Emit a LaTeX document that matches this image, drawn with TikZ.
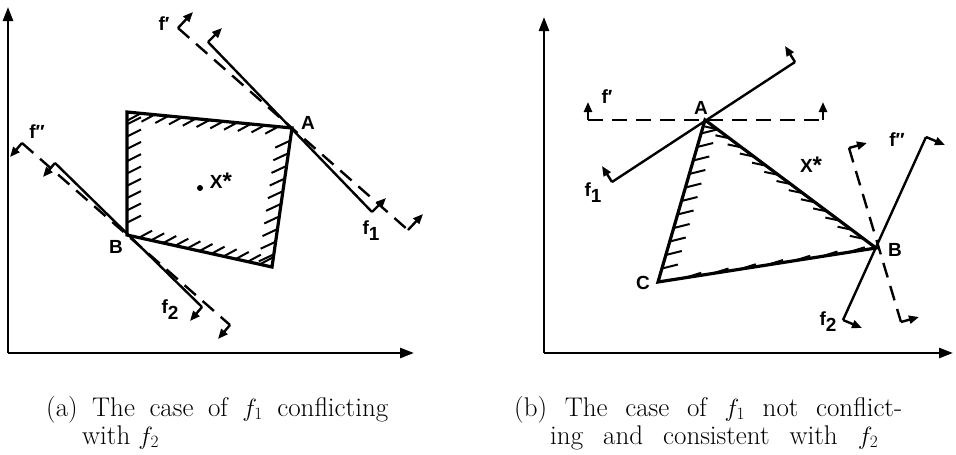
\documentclass[tikz,border=0pt]{standalone}
\usepackage{fontspec}
\newfontfamily\lblfont{Liberation Sans}
\usetikzlibrary{arrows.meta,calc}

\begin{document}
\begin{tikzpicture}[x=1pt,y=-1pt,
    axis/.style={line width=2.6pt,-{Triangle[length=14pt,width=10pt]}},
    region/.style={line width=3.2pt,line join=miter},
    hatch/.style={line width=2pt},
    fline/.style={line width=2.4pt},
    dline/.style={line width=2.4pt,dash pattern=on 15pt off 9pt},
    fence/.style={line width=2.4pt,-{Triangle[length=10pt,width=8pt]}},
    lbl/.style={font=\lblfont\bfseries\fontsize{19}{22}\selectfont,inner sep=0pt},
    capt/.style={font=\fontsize{27}{32}\selectfont,inner sep=0pt,anchor=base west}]
            \useasboundingbox (0,0) rectangle (956,455);
            % Axes
            \coordinate (O1) at (8,353);
            \coordinate (O2) at (544,353);
            \draw[axis] (O1) -- (8,7);
            \draw[axis] (O1) -- (414,353);
            \draw[axis] (O2) -- (544,17);
            \draw[axis] (O2) -- (953,353);

            % (a) feasible region
            \coordinate (P) at (127,112);
            \coordinate (A1) at (292,128);
            \coordinate (Q) at (272,267);
            \coordinate (B1) at (127,235);
            \draw[region] (P) -- (A1) -- (Q) -- (B1) -- cycle;
            \foreach \p/\q/\n/\dx/\dy in {P/A1/11/-13/7, P/B1/9/14/-7, A1/Q/10/-15/7, B1/Q/11/13/-7} {
                \foreach \i in {1,...,\n} {
                    \pgfmathsetmacro\t{\i/(\n+1)}
                    \draw[hatch] ($(\p)!\t!(\q)$) -- ++(\dx,\dy);
                }
            }
            \fill (200,188) circle (3pt) coordinate (xs1);

            % (a) constraints through A and B
            \coordinate (f1a) at (208,42);
            \coordinate (f1b) at (372,212);
            \coordinate (fpa) at (178,28);
            \coordinate (fpb) at (408,230);
            \coordinate (f2a) at (55,163);
            \coordinate (f2b) at (202,307);
            \coordinate (fppa) at (22,143);
            \coordinate (fppb) at (230,325);
            \draw[fline] (f1a) -- (f1b);
            \draw[dline] (fpa) -- (fpb);
            \draw[fline] (f2a) -- (f2b);
            \draw[dline] (fppa) -- (fppb);
            \foreach \c in {f1a, f1b} \draw[fence] (\c) -- ++(14,-14);
            \foreach \c in {fpa, fpb} \draw[fence] (\c) -- ++(15,-16);
            \foreach \c in {f2a, f2b, fppa, fppb} \draw[fence] (\c) -- ++(-12,14);

            % (b) feasible region
            \coordinate (A2) at (705,120);
            \coordinate (B2) at (876,248);
            \coordinate (C2) at (658,282);
            \draw[region] (A2) -- (B2) -- (C2) -- cycle;
            \foreach \p/\q/\n/\dx/\dy in {C2/A2/11/16/-4, A2/B2/13/-14/-3, C2/B2/7/16/-5} {
                \foreach \i in {1,...,\n} {
                    \pgfmathsetmacro\t{\i/(\n+1)}
                    \draw[hatch] ($(\p)!\t!(\q)$) -- ++(\dx,\dy);
                }
            }

            % (b) constraints through A and B
            \coordinate (g1a) at (612,182);
            \coordinate (g1b) at (795,62);
            \coordinate (gpa) at (588,120);
            \coordinate (gpb) at (823,120);
            \coordinate (g2a) at (843,320);
            \coordinate (g2b) at (926,137);
            \coordinate (gppa) at (849,148);
            \coordinate (gppb) at (901,322);
            \draw[fline] (g1a) -- (g1b);
            \draw[dline] (gpa) -- (gpb);
            \draw[fline] (g2a) -- (g2b);
            \draw[dline] (gppa) -- (gppb);
            \foreach \c in {g1a, g1b} \draw[fence] (\c) -- ++(-10,-16);
            \foreach \c in {gpa, gpb} \draw[fence] (\c) -- ++(0,-18);
            \foreach \c in {g2a, g2b} \draw[fence] (\c) -- ++(19,8);
            \foreach \c in {gppa, gppb} \draw[fence] (\c) -- ++(18,-5);

            % Labels
            \node[lbl] (lA1) at (308,123) {A};
            \node[lbl] (lB1) at (116,247) {B};
            \node[lbl] (lX1) at (221,181) {X\raisebox{-1pt}{\fontsize{24}{24}\selectfont *}};
            \node[lbl] (lf11) at (371,231) {f\raisebox{-6pt}{1}};
            \node[lbl] (lf21) at (170,310) {f\raisebox{-6pt}{2}};
            \node[lbl] (lfp1) at (164,24) {f′};
            \node[lbl] (lfpp1) at (37,132) {f″};
            \node[lbl] (lA2) at (701,108) {A};
            \node[lbl] (lB2) at (895,250) {B};
            \node[lbl] (lC2) at (643,283) {C};
            \node[lbl] (lX2) at (811,165) {X\raisebox{-1pt}{\fontsize{24}{24}\selectfont *}};
            \node[lbl] (lf12) at (593,193) {f\raisebox{-6pt}{1}};
            \node[lbl] (lf22) at (828,322) {f\raisebox{-6pt}{2}};
            \node[lbl] (lfp2) at (607,97) {f′};
            \node[lbl] (lfpp2) at (897,140) {f″};

            % Captions
            \node[capt] (capa) at (46,416) {\makebox[342pt][s]{(a) The case of $f_1$ conflicting}};
            \node[capt] (capa2) at (82,444) {with $f_2$};
            \node[capt] (capb) at (514,416) {\makebox[388pt][s]{(b) The case of $f_1$ not conflict-}};
            \node[capt] (capb2) at (550,444) {\makebox[328pt][s]{ing and consistent with $f_2$}};
        \end{tikzpicture}
\end{document}
